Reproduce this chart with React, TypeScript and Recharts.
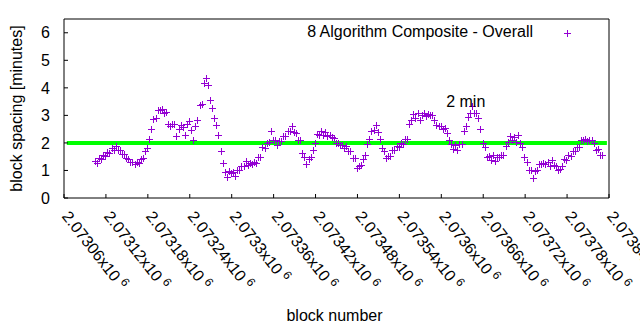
import {
  ComposedChart,
  Scatter,
  XAxis,
  YAxis,
  ReferenceLine,
  ReferenceDot,
} from "recharts";

// block spacing (minutes) every 3rd block, starting at firstBlock
const firstBlock = 2073104;
const blockStep = 3;
const blockSpacing = [
  1.36, 1.28, 1.45, 1.4, 1.55, 1.52, 1.66, 1.62, 1.8, 1.74,
  1.9, 1.74, 1.73, 1.6, 1.6, 1.44, 1.43, 1.3, 1.31, 1.24,
  1.3, 1.26, 1.4, 1.44, 1.72, 1.82, 2.14, 2.5, 2.86, 2.92,
  3.18, 3.18, 3.22, 3.1, 3.12, 2.7, 2.62, 2.7, 2.7, 2.25,
  2.52, 2.65, 2.58, 2.3, 2.7, 2.78, 2.48, 2.1, 2.62, 2.85,
  3.36, 3.4, 4.16, 4.35, 4.12, 3.55, 3.26, 2.9, 2.66, 2.3,
  1.7, 1.26, 0.94, 0.78, 0.97, 0.92, 0.96, 0.8, 1.0, 1.0,
  1.18, 1.16, 1.35, 1.2, 1.28, 1.24, 1.31, 1.26, 1.5, 1.5,
  1.84, 1.8, 2.0, 2.05, 2.42, 2.1, 2.1, 1.92, 2.07, 2.08,
  2.26, 2.25, 2.44, 2.42, 2.6, 2.4, 2.36, 2.1, 2.1, 1.65,
  1.5, 1.25, 1.43, 1.5, 1.76, 2.0, 2.33, 2.3, 2.45, 2.27,
  2.4, 2.25, 2.3, 2.22, 2.18, 2.0, 2.0, 1.94, 1.93, 1.8,
  1.88, 1.72, 1.7, 1.47, 1.45, 1.1, 1.16, 1.2, 1.4, 1.55,
  1.96, 2.15, 2.43, 2.47, 2.65, 2.4, 2.15, 1.8, 1.7, 1.45,
  1.53, 1.53, 1.75, 1.73, 1.9, 1.85, 2.0, 1.95, 2.13, 2.15,
  2.7, 2.85, 3.05, 2.9, 3.1, 2.82, 3.0, 3.1, 2.97, 3.05,
  3.0, 3.02, 2.85, 2.65, 2.6, 2.6, 2.5, 2.55, 2.35, 2.1,
  1.95, 1.77, 1.93, 1.75, 1.97, 1.95, 2.45, 2.6, 2.95, 3.1,
  3.35, 3.1, 3.1, 2.9, 2.5, 2.0, 1.85, 1.5, 1.53, 1.37,
  1.55, 1.33, 1.5, 1.5, 1.55, 1.57, 1.9, 2.05, 2.25, 2.1,
  2.23, 2.05, 2.27, 2.0, 1.85, 1.5, 1.3, 1.0, 1.0, 0.72,
  0.97, 1.0, 1.25, 1.23, 1.27, 1.25, 1.3, 1.15, 1.37, 1.2,
  1.17, 1.0, 1.07, 1.15, 1.4, 1.37, 1.57, 1.53, 1.7, 1.7,
  1.85, 1.87, 2.1, 2.1, 2.13, 2.07, 2.1, 2.1, 2.0, 1.73,
  1.77, 1.57, 1.55,
];

const xTicks = [
  2073060, 2073120, 2073180, 2073240, 2073300, 2073360, 2073420,
  2073480, 2073540, 2073600, 2073660, 2073720, 2073780, 2073840,
];
const yTicks = [0, 1, 2, 3, 4, 5, 6];
const targetLine = [
  { block: 2073064, value: 2 },
  { block: 2073837, value: 2 },
];
const targetLabel = { block: 2073635, value: 3.5, text: "2 min" };
const seriesName = "8 Algorithm Composite - Overall";

const data = blockSpacing.map((v, i) => ({ block: firstBlock + i * blockStep, value: v }));

const FONT = "'Liberation Sans', Arial, sans-serif";
const PURPLE = "#9400d3";

const Plus = (props: any) => {
  const cx = Math.round(props.cx);
  const cy = Math.round(props.cy);
  return (
    <path
      d={`M${cx - 3} ${cy + 0.5}h7M${cx + 0.5} ${cy - 3}v7`}
      stroke={PURPLE}
      strokeWidth={1}
      fill="none"
    />
  );
};

const XTick = (props: any) => {
  const { x, payload } = props;
  const mant = parseFloat((payload.value / 1e6).toFixed(6)).toString();
  return (
    <g transform={`translate(${x - 2.7},216.6) rotate(52)`}>
      <text x={0} y={0} textAnchor="start" fontSize={16} fontFamily={FONT} fill="#000">
        {mant}x10
        <tspan dx={4} dy={-6} fontSize={12}>
          6
        </tspan>
      </text>
    </g>
  );
};

// gnuplot-style key in the top right corner of the plot
const Key = () => (
  <svg
    width={640}
    height={45}
    style={{ position: "absolute", left: 0, top: 0, pointerEvents: "none" }}
  >
    <text x={533} y={36.7} textAnchor="end" fontSize={16} fontFamily={FONT} fill="#000">
      {seriesName}
    </text>
    <path d="M564 33.5h7M567.5 30v7" stroke={PURPLE} strokeWidth={1} />
  </svg>
);

export default function App() {
  return (
    <div style={{ position: "absolute", left: 0, top: 0, width: 640, height: 330, background: "#fff" }}>
      <ComposedChart
        width={640}
        height={330}
        data={data}
        margin={{ top: 19, right: 0, bottom: 0, left: 0 }}
      >
        <XAxis
          dataKey="block"
          type="number"
          domain={[2073060, 2073840]}
          ticks={xTicks}
          interval={0}
          height={132}
          tickSize={-4}
          tickMargin={0}
          axisLine={{ stroke: "#000" }}
          tickLine={{ stroke: "#000" }}
          tick={<XTick />}
          label={(p: any) => (
            <text
              x={p.viewBox.x + p.viewBox.width / 2 - 2}
              y={p.viewBox.y + 123}
              textAnchor="middle"
              fontSize={16}
              fontFamily={FONT}
              fill="#000"
            >
              block number
            </text>
          )}
        />
        <YAxis
          dataKey="value"
          type="number"
          domain={[0, 6.5]}
          ticks={yTicks}
          interval={0}
          width={64}
          tickSize={-4}
          tickMargin={18}
          axisLine={{ stroke: "#000" }}
          tickLine={{ stroke: "#000" }}
          tick={{ fill: "#000", fontSize: 16, fontFamily: FONT }}
          label={(p: any) => (
            <text
              transform={`translate(${p.viewBox.x + 22},${p.viewBox.y + p.viewBox.height / 2}) rotate(-90)`}
              textAnchor="middle"
              fontSize={16}
              fontFamily={FONT}
              fill="#000"
            >
              block spacing [minutes]
            </text>
          )}
        />
        <YAxis
          yAxisId="right"
          orientation="right"
          type="number"
          domain={[0, 6.5]}
          ticks={yTicks}
          interval={0}
          width={31}
          tickSize={-4}
          axisLine={{ stroke: "#000" }}
          tickLine={{ stroke: "#000" }}
          tick={false}
        />
        <ReferenceLine y={6.5} stroke="#000" ifOverflow="visible" />
        <Scatter
          name={seriesName}
          dataKey="value"
          fill={PURPLE}
          shape={<Plus />}
          isAnimationActive={false}
        />
        <ReferenceLine
          segment={targetLine.map((p) => ({ x: p.block, y: p.value }))}
          stroke="#00ff00"
          strokeWidth={4}
          ifOverflow="visible"
        />
        <ReferenceDot
          x={targetLabel.block}
          y={targetLabel.value}
          r={0}
          fill="none"
          stroke="none"
          label={{ value: targetLabel.text, position: "center", fill: "#000", fontSize: 16, fontFamily: FONT }}
        />
      </ComposedChart>
      <Key />
    </div>
  );
}
